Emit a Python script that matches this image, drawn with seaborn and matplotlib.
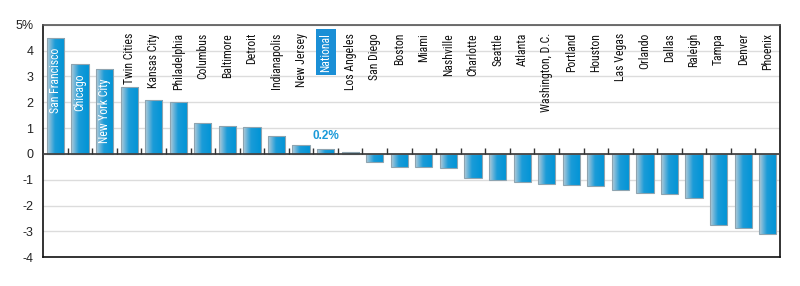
import numpy as np
import pandas as pd
import seaborn as sns
import matplotlib
matplotlib.use("Agg")
import matplotlib.pyplot as plt
import matplotlib.transforms as mtransforms
from matplotlib.colors import LinearSegmentedColormap

cities = ["San Francisco", "Chicago", "New York City", "Twin Cities", "Kansas City",
          "Philadelphia", "Columbus", "Baltimore", "Detroit", "Indianapolis",
          "New Jersey", "National", "Los Angeles", "San Diego", "Boston", "Miami",
          "Nashville", "Charlotte", "Seattle", "Atlanta", "Washington, D.C.",
          "Portland", "Houston", "Las Vegas", "Orlando", "Dallas", "Raleigh",
          "Tampa", "Denver", "Phoenix"]
change = [4.5, 3.5, 3.3, 2.6, 2.1, 2.0, 1.2, 1.1, 1.05, 0.7, 0.35, 0.2, 0.07,
          -0.33, -0.49, -0.5, -0.54, -0.93, -1.0, -1.08, -1.15, -1.2, -1.24,
          -1.41, -1.5, -1.54, -1.7, -2.77, -2.89, -3.12]
yticks = [5, 4, 3, 2, 1, 0, -1, -2, -3, -4]
ytick_labels = ["5%", "4", "3", "2", "1", "0", "-1", "-2", "-3", "-4"]
highlight = "National"

df = pd.DataFrame({"city": cities, "change": change})
n = len(df)

sns.set_style("white")
plt.rcParams["font.family"] = ["Liberation Sans", "DejaVu Sans"]
narrow = ["Roboto Condensed", "DejaVu Sans"]

fig = plt.figure(figsize=(8, 2.86), dpi=100)
ax = fig.add_axes([0.054, 0.101, 0.921, 0.812])

blue = "#0a96d6"
sns.barplot(df, x="city", y="change", color=blue, width=0.7, ax=ax,
            saturation=1, edgecolor="#8fa4b0", linewidth=0.8, zorder=3)

# horizontal gradient on each bar
cmap = LinearSegmentedColormap.from_list(
    "bar", [(0, "#b8ccd8"), (0.45, "#1a9bd8"), (1, "#0094d6")])
grad = np.linspace(0, 1, 256).reshape(1, -1)
for p in list(ax.patches):
    x0, y0 = p.get_x(), p.get_y()
    w, h = p.get_width(), p.get_height()
    im = ax.imshow(grad, extent=[x0, x0 + w, y0, y0 + h], cmap=cmap,
                   aspect="auto", zorder=2.5, interpolation="bicubic")
    im.set_clip_path(p)
    p.set_facecolor("none")

ax.set_xlim(-0.5, n - 0.5)
ax.set_ylim(-4, 5)
ax.set_aspect("auto")

ax.set_yticks(yticks)
ax.set_yticklabels(ytick_labels, fontsize=9, color="#222")
ax.tick_params(axis="y", length=0, pad=7)
ax.set_xticks([])
ax.set_xlabel("")
ax.set_ylabel("")

ax.grid(axis="y", color="#dcdcdc", lw=1, zorder=0)
ax.set_axisbelow(True)
ax.axhline(0, color="#444", lw=1.3, zorder=4)
ax.vlines(np.arange(n - 1) + 0.5, 0, 0.22, color="#333", lw=1, zorder=4)

for side in ["left", "right", "bottom"]:
    ax.spines[side].set_color("#111")
    ax.spines[side].set_linewidth(1.2)
ax.spines["top"].set_color("#555")
ax.spines["top"].set_linewidth(1.2)

# city labels
trans = mtransforms.blended_transform_factory(ax.transData, ax.transAxes)
for i, (city, val) in enumerate(zip(cities, change)):
    if val > 3:
        ax.text(i, val - 0.38, city, rotation=90, ha="center", va="top",
                color="white", fontsize=8.5, family=narrow, zorder=5)
    elif city == highlight:
        ax.text(i, 0.965, city, rotation=90, ha="center", va="top", transform=trans,
                color="white", fontsize=8.5, family=narrow, zorder=5,
                bbox=dict(boxstyle="square,pad=0.3", fc="#1a8fd6", ec="none"))
        ax.annotate(f"{val:.1f}%", (i, val), xytext=(0, 5), textcoords="offset points",
                    ha="center", va="bottom", color="#1a9ad9", fontsize=8.5,
                    fontweight="bold", zorder=5)
    else:
        ax.text(i, 0.965, city, rotation=90, ha="center", va="top", transform=trans,
                color="#111", fontsize=8.5, family=narrow, zorder=5)

fig.savefig("out.png", dpi=100)
